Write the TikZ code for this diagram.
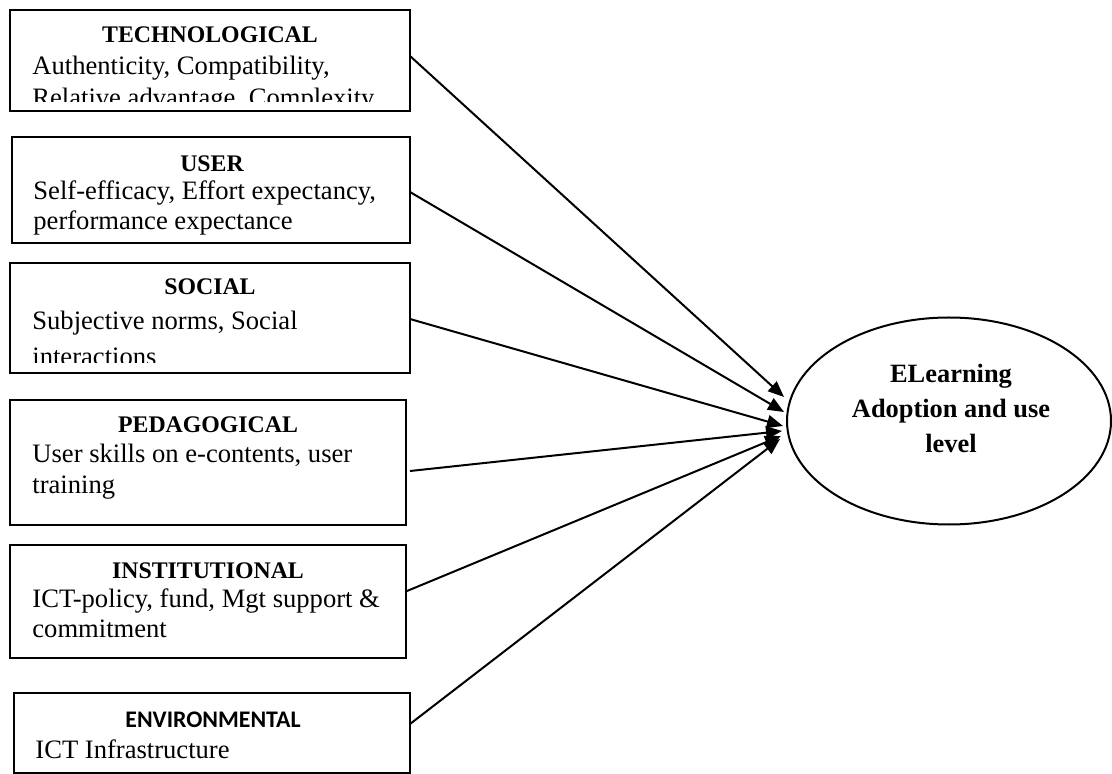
\documentclass[tikz,border=0pt]{standalone}
\usepackage{fontspec}
\setmainfont{Liberation Serif}
\newfontfamily\calibrifont{Carlito}
\usetikzlibrary{arrows.meta,shapes.geometric,calc}
\begin{document}
\begin{tikzpicture}[x=0.5pt,y=-0.5pt,
  factorbox/.style={draw,line width=1pt,rectangle,inner sep=0pt,outer sep=0pt},
  head/.style={anchor=base,inner sep=0pt,font=\fontsize{11.9}{14}\selectfont\bfseries},
  body/.style={anchor=base west,inner sep=0pt,font=\fontsize{13.3}{16}\selectfont},
  link/.style={line width=1pt,-{Triangle[length=8pt,width=6.5pt]}}]
\useasboundingbox (0,0) rectangle (1112,774);

% factor boxes
\node[factorbox,minimum width=200pt,minimum height=50.5pt] (tech) at (210,60.5) {};
\node[factorbox,minimum width=199pt,minimum height=53pt] (user) at (211,190) {};
\node[factorbox,minimum width=200pt,minimum height=55pt] (social) at (210,318) {};
\node[factorbox,minimum width=198pt,minimum height=62.5pt] (ped) at (208,462.5) {};
\node[factorbox,minimum width=198pt,minimum height=56.5pt] (inst) at (208,601.5) {};
\node[factorbox,minimum width=198pt,minimum height=40pt] (env) at (212,733) {};

% texts
\begin{scope}
\clip (11,11) rectangle (409,102);
\node[head] (techh) at (210,43) {TECHNOLOGICAL};
\node[body] (techa) at (32,75) {Authenticity, Compatibility,};
\node[body] (techb) at (32,107) {Relative advantage, Complexity};
\end{scope}

\begin{scope}
\clip (13,138) rectangle (409,235);
\node[head] (userh) at (212,172) {USER};
\node[body] (usera) at (33,200) {Self-efficacy, Effort expectancy,};
\node[body] (userb) at (33,230) {performance expectance};
\end{scope}

\begin{scope}
\clip (11,264) rectangle (409,363);
\node[head] (socialh) at (210,295) {SOCIAL};
\node[body] (sociala) at (32,330) {Subjective norms, Social};
\node[body] (socialb) at (32,366) {interactions};
\end{scope}

\node[head] (pedh) at (208,433) {PEDAGOGICAL};
\node[body] (peda) at (32,462) {User skills on e-contents, user};
\node[body] (pedb) at (32,493) {training};

\node[head] (insth) at (208,578) {INSTITUTIONAL};
\node[body] (insta) at (32,607) {ICT-policy, fund, Mgt support \&};
\node[body] (instb) at (32,637) {commitment};

\node[head,font=\fontsize{11.9}{14}\calibrifont\bfseries] (envh) at (213,727) {ENVIRONMENTAL};
\node[body] (enva) at (35,758) {ICT Infrastructure};

% goal ellipse
\node[draw,ellipse,line width=1pt,minimum width=162pt,minimum height=103.5pt,inner sep=0pt] (goal) at (949,421) {};
\node[align=center,inner sep=0pt,font=\fontsize{13.2}{17.5}\selectfont\bfseries] (goaltext) at (951,408) {ELearning\\Adoption and use\\level};

% connectors
\draw[link] ($(tech.east)+(0,-4.5)$) -- ($(goal.west)+(-2,-24)$);
\draw[link] ($(user.east)+(0,2)$) -- ($(goal.west)+(-2,-9)$);
\draw[link] ($(social.east)+(0,1)$) -- ($(goal.west)+(-3,5)$);
\draw[link] ($(ped.east)+(4,8.5)$) -- ($(goal.west)+(-4,10)$);
\draw[link] ($(inst.east)+(1,-10.5)$) -- ($(goal.west)+(-5,15)$);
\draw[link] ($(env.east)+(0,-9)$) -- ($(goal.west)+(-6,18)$);
\end{tikzpicture}
\end{document}
